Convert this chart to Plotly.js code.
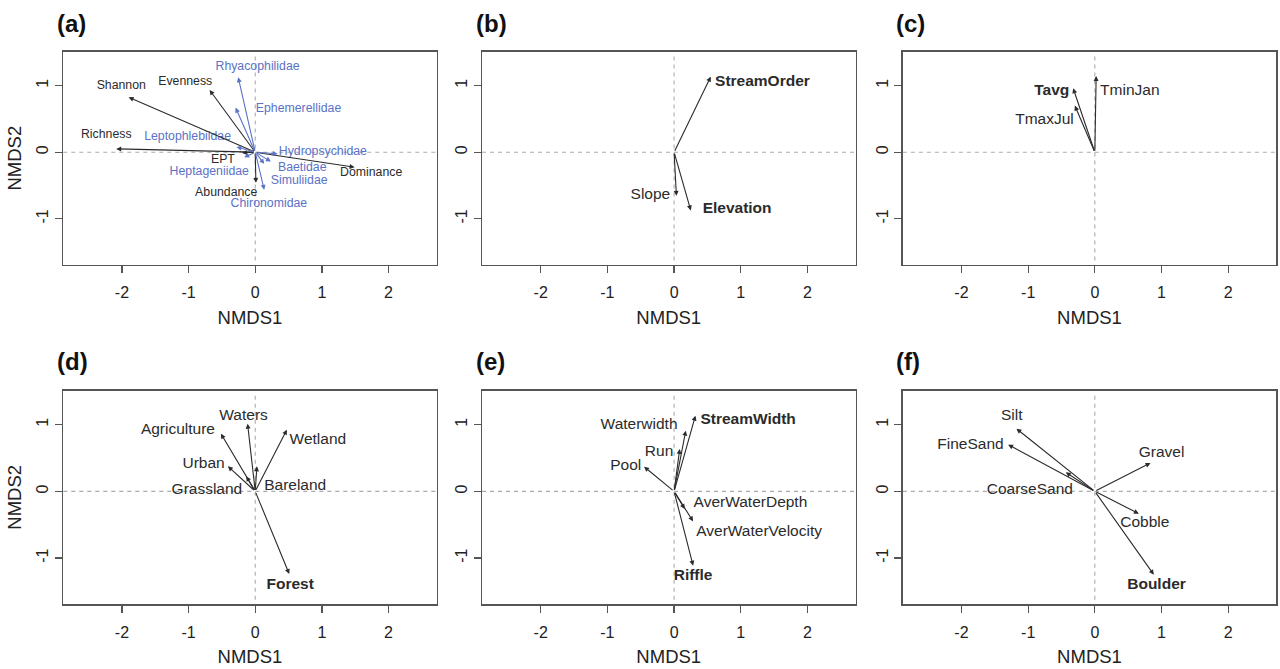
<!DOCTYPE html>
<html><head><meta charset="utf-8">
<script src="https://cdn.plot.ly/plotly-3.0.1.min.js"></script>
<style>html,body{margin:0;padding:0;background:#fff}#chart{width:1280px;height:669px}</style>
</head><body><div id="chart"></div><script>
// ---- data ----
const panelLetters = ['(a)','(b)','(c)','(d)','(e)','(f)'];
const xTicks = [-2,-1,0,1,2];
const xTickText = ['-2','-1','0','1','2'];
const yTicks = [-1,0,1];
const yTickText = ['-1','0','1'];
const xLabel = 'NMDS1';
const yLabel = 'NMDS2';

const aNames = ['Shannon','Evenness','Richness','Dominance','Abundance','EPT','Rhyacophilidae','Ephemerellidae','Leptophlebiidae','Hydropsychidae','Heptageniidae','Baetidae','Simuliidae','Chironomidae'];
const aX = [-1.90,-0.685,-2.085,1.49,0.01,-0.20,-0.255,-0.295,-0.28,0.335,-0.165,0.235,0.135,0.135];
const aY = [0.825,0.935,0.05,-0.225,-0.46,-0.01,1.125,0.67,0.08,-0.025,-0.075,-0.14,-0.175,-0.565];
const aLabX = [-2.01,-1.05,-2.235,1.74,-0.435,-0.485,0.035,0.65,-1.015,1.015,-0.69,0.705,0.66,0.205];
const aLabY = [1.0,1.06,0.26,-0.31,-0.61,-0.115,1.285,0.65,0.225,0.0,-0.30,-0.24,-0.43,-0.78];
const aTaxon = [0,0,0,0,0,0,1,1,1,1,1,1,1,1];

const bNames = ['StreamOrder','Slope','Elevation'];
const bX = [0.55,0.035,0.25];
const bY = [1.135,-0.655,-0.875];
const bLabX = [1.325,-0.355,0.945];
const bLabY = [1.05,-0.64,-0.85];
const bSig = [1,0,1];

const cNames = ['Tavg','TmaxJul','TminJan'];
const cX = [-0.325,-0.30,0.02];
const cY = [0.96,0.70,1.145];
const cLabX = [-0.645,-0.755,0.525];
const cLabY = [0.925,0.475,0.925];
const cSig = [1,0,0];

const dNames = ['Waters','Agriculture','Wetland','Urban','Grassland','Bareland','Forest'];
const dX = [-0.115,-0.515,0.475,-0.41,-0.135,0.025,0.51];
const dY = [1.015,0.865,0.925,0.375,0.225,0.375,-1.24];
const dLabX = [-0.175,-1.16,0.94,-0.775,-0.725,0.60,0.525];
const dLabY = [1.135,0.925,0.775,0.415,0.02,0.075,-1.40];
const dSig = [0,0,0,0,0,0,1];

const eNames = ['StreamWidth','Waterwidth','Run','Pool','AverWaterDepth','AverWaterVelocity','Riffle'];
const eX = [0.32,0.175,0.085,-0.45,0.16,0.285,0.285];
const eY = [1.135,0.91,0.635,0.37,-0.265,-0.45,-1.115];
const eLabX = [1.11,-0.525,-0.225,-0.725,1.145,1.275,0.285];
const eLabY = [1.07,0.995,0.585,0.385,-0.175,-0.605,-1.275];
const eSig = [1,0,0,0,0,0,1];

const fNames = ['Silt','FineSand','CoarseSand','Gravel','Cobble','Boulder'];
const fX = [-1.175,-1.30,-0.435,0.835,0.66,0.885];
const fY = [0.94,0.70,0.285,0.425,-0.335,-1.25];
const fLabX = [-1.245,-1.865,-0.975,1.0,0.75,0.925];
const fLabY = [1.125,0.70,0.025,0.575,-0.475,-1.40];
const fSig = [0,0,0,0,0,1];

// ---- layout / drawing ----
const W = 1280, H = 669;
const FONT = 'Liberation Sans, Arial, Helvetica, sans-serif';
const BLACK = '#2b2b2b', BLUE = '#5b72c6', FRAME = '#555555', DASH = '#ababab';
const colDom = [[63.3,436.5],[482,855.5],[902.8,1276.2]];
const rowDom = [[51.7,264.7],[390.7,604]];
const xRange = [-2.88, 2.72], yRange = [-1.69, 1.51];

const panels = [
  {names:aNames, x:aX, y:aY, lx:aLabX, ly:aLabY, color:aTaxon.map(t=>t?BLUE:BLACK), bold:aNames.map(()=>0), fs:12.3},
  {names:bNames, x:bX, y:bY, lx:bLabX, ly:bLabY, color:bNames.map(()=>BLACK), bold:bSig, fs:15.5},
  {names:cNames, x:cX, y:cY, lx:cLabX, ly:cLabY, color:cNames.map(()=>BLACK), bold:cSig, fs:15.5},
  {names:dNames, x:dX, y:dY, lx:dLabX, ly:dLabY, color:dNames.map(()=>BLACK), bold:dSig, fs:15.5},
  {names:eNames, x:eX, y:eY, lx:eLabX, ly:eLabY, color:eNames.map(()=>BLACK), bold:eSig, fs:15.5},
  {names:fNames, x:fX, y:fY, lx:fLabX, ly:fLabY, color:fNames.map(()=>BLACK), bold:fSig, fs:15.5}
];

const traces = [], annotations = [], shapes = [];
const layout = {
  width: W, height: H, margin:{l:0,r:0,t:0,b:0},
  paper_bgcolor:'#fff', plot_bgcolor:'#fff', showlegend:false,
  font:{family:FONT, color:BLACK}
};

panels.forEach((p, i) => {
  const col = i % 3, row = Math.floor(i / 3);
  const sfx = i === 0 ? '' : String(i + 1);
  const xa = 'x' + sfx, ya = 'y' + sfx;
  layout['xaxis' + sfx] = {
    domain:[colDom[col][0]/W, colDom[col][1]/W], anchor: ya, range: xRange,
    showgrid:false, zeroline:false, showline:true, mirror:true, linecolor:FRAME, linewidth:1.5,
    ticks:'outside', ticklen:7, tickwidth:1.3, tickcolor:FRAME,
    tickmode:'array', tickvals:xTicks, ticktext:xTickText, ticklabelstandoff:6,
    tickfont:{size:16, color:'#222', family:FONT}, fixedrange:true,
    title:{text:xLabel, font:{size:18.5, color:'#222', family:FONT}, standoff:10}
  };
  layout['yaxis' + sfx] = {
    domain:[1 - rowDom[row][1]/H, 1 - rowDom[row][0]/H], anchor: xa, range: yRange,
    showgrid:false, zeroline:false, showline:true, mirror:true, linecolor:FRAME, linewidth:1.5,
    ticks:'outside', ticklen:7, tickwidth:1.3, tickcolor:FRAME,
    tickmode:'array', tickvals:yTicks, ticktext:yTickText, tickangle:-90,
    tickfont:{size:16, color:'#222', family:FONT}, fixedrange:true,
    title: col === 0 ? {text:yLabel, font:{size:18.5, color:'#222', family:FONT}, standoff:8} : {text:''}
  };
  // dashed reference lines
  shapes.push({type:'line', xref:xa, yref:ya + ' domain', x0:0, x1:0, y0:0.02, y1:0.98,
               line:{color:DASH, width:1.1, dash:'4px,4px'}, layer:'below'});
  shapes.push({type:'line', xref:xa + ' domain', yref:ya, x0:0, x1:1, y0:0, y1:0,
               line:{color:DASH, width:1.1, dash:'4px,4px'}, layer:'below'});
  // arrows
  p.names.forEach((n, k) => {
    annotations.push({xref:xa, yref:ya, axref:xa, ayref:ya, x:p.x[k], y:p.y[k], ax:0, ay:0,
      text:'', showarrow:true, arrowhead:2, arrowsize:0.9, arrowwidth:1.1, arrowcolor:p.color[k],
      standoff:0, startstandoff:0});
  });
  // labels
  traces.push({type:'scatter', mode:'text', xaxis:xa, yaxis:ya, x:p.lx, y:p.ly,
    text:p.names.map((n,k)=> p.bold[k] ? '<b>' + n + '</b>' : n),
    textposition:'middle center', hoverinfo:'text', cliponaxis:false,
    textfont:{size:p.fs, color:p.color, family:FONT}});
  // panel letter
  annotations.push({xref:'paper', yref:'paper', x:(colDom[col][0]-8.5)/W, xanchor:'left',
    y: 1 - (row === 0 ? 23 : 361)/H, yanchor:'middle', showarrow:false,
    text:'<b>' + panelLetters[i] + '</b>', font:{size:24, color:'#111', family:FONT}});
});
layout.annotations = annotations;
layout.shapes = shapes;
Plotly.newPlot('chart', traces, layout, {staticPlot:true, displayModeBar:false});
</script></body></html>
